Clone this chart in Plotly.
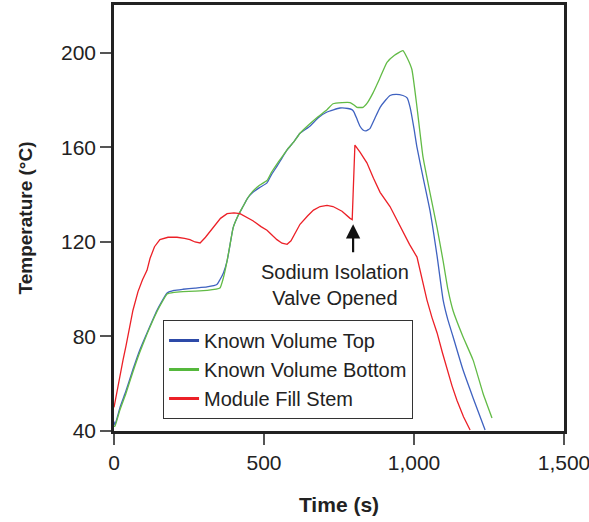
import plotly.graph_objects as go

# Module Fill Stem (red)
red_t = [0, 3, 10, 20, 30, 40, 50, 63, 80, 95, 110, 120, 135, 153, 180, 210, 235, 253, 270, 287, 305, 330, 355, 377, 400, 420, 440, 463, 490, 510, 530, 543, 560, 577, 590, 605, 620, 645, 665, 687, 710, 730, 760, 787, 794, 797, 803, 820, 843, 865, 887, 920, 940, 963, 985, 1010, 1027, 1043, 1060, 1077, 1095, 1110, 1127, 1143, 1165, 1187]
red_T = [50, 52, 58, 64, 70, 76, 83, 91, 99, 104, 108, 113, 118, 121, 122, 122, 121.5, 121, 120, 119.6, 122, 126, 130, 132, 132.3, 132, 130.5, 129, 126.5, 125, 122.5, 121, 119.5, 119, 120.5, 124, 127.5, 131, 133.5, 135, 135.5, 135, 133, 130, 129.5, 140, 161, 158, 153.5, 147, 141, 135, 130, 124, 119, 113.6, 104, 95.5, 88, 81.5, 73, 66, 59, 53, 46, 40.4]

# Known Volume Top (blue)
blue_t = [0, 3, 20, 40, 63, 85, 110, 143, 160, 177, 200, 230, 270, 310, 343, 353, 365, 377, 387, 397, 413, 430, 445, 463, 485, 510, 525, 543, 560, 577, 600, 620, 653, 680, 710, 753, 780, 793, 800, 810, 820, 830, 840, 853, 870, 887, 905, 920, 940, 963, 977, 987, 1000, 1010, 1030, 1053, 1077, 1097, 1113, 1130, 1163, 1197, 1237]
blue_T = [44, 42.5, 50, 57, 66, 74, 81.5, 91, 95, 98.4, 99.5, 100, 100.5, 101, 102, 104, 107, 112, 119, 126, 131, 135, 138.5, 141, 143, 145, 148.5, 152, 155.5, 159, 162.5, 166, 169, 172.5, 175, 176.7, 176.5, 176, 175, 172, 169, 167.4, 167, 168, 172.5, 177, 180, 182, 182.5, 182, 181, 177, 168, 160, 147.5, 133.5, 114, 95.5, 87, 80, 66, 54, 40.4]

# Known Volume Bottom (green)
green_t = [0, 3, 20, 40, 63, 85, 110, 143, 160, 177, 200, 230, 270, 310, 353, 365, 377, 387, 397, 413, 430, 445, 463, 485, 510, 525, 543, 560, 577, 600, 620, 653, 680, 710, 730, 760, 787, 800, 810, 830, 845, 863, 885, 910, 935, 963, 977, 993, 1010, 1030, 1053, 1077, 1097, 1113, 1130, 1163, 1197, 1230, 1260]
green_T = [42, 42, 49, 56, 65, 73, 81, 90.5, 94.5, 98, 98.7, 99, 99.2, 99.5, 100.5, 105, 112, 119, 126, 131, 135, 138.5, 141.5, 144, 146, 149.5, 153, 156, 159, 162.5, 166, 170, 173, 176, 178.5, 179, 179, 178, 177, 177, 179, 183, 189, 196, 199, 201, 198, 193, 177, 156, 141, 126, 112, 100, 91, 80, 70, 56, 45.5]

series_names = ["Known Volume Top", "Known Volume Bottom", "Module Fill Stem"]
line_colors = ["#3f62c0", "#62bb46", "#ec2027"]
legend_colors = ["#2d4aa8", "#55b83c", "#ec2027"]

x_ticks = [0, 500, 1000, 1500]
y_ticks = [40, 80, 120, 160, 200]

FONT = "Liberation Sans, Arial, sans-serif"

fig = go.Figure()
for (tx, ty), nm, col in zip([(blue_t, blue_T), (green_t, green_T), (red_t, red_T)],
                             series_names, line_colors):
    shape = dict(shape="spline", smoothing=0.4) if nm != "Module Fill Stem" else {}
    fig.add_trace(go.Scatter(x=tx, y=ty, mode="lines", name=nm, showlegend=False,
                             line=dict(color=col, width=1.3, **shape)))
# legend entries with thicker sample lines
for nm, col in zip(series_names, legend_colors):
    fig.add_trace(go.Scatter(x=[None], y=[None], mode="lines", name=nm,
                             line=dict(color=col, width=3)))

# arrow
fig.add_annotation(x=797, y=127.5, ax=797, ay=115, xref="x", yref="y", axref="x", ayref="y",
                   text="", showarrow=True, arrowhead=2, arrowsize=1.3, arrowwidth=2.2,
                   arrowcolor="#111")
fig.add_annotation(x=737, y=102, xref="x", yref="y", text="Sodium Isolation<br>Valve Opened",
                   showarrow=False, font=dict(family=FONT, size=20, color="#222"), align="center")

fig.update_layout(
    width=589, height=522,
    margin=dict(l=114, r=25, t=5, b=91, autoexpand=False),
    paper_bgcolor="white", plot_bgcolor="white",
    font=dict(family=FONT, size=21, color="#222"),
    showlegend=True,
    legend=dict(x=0.109, y=0.2606, xanchor="left", yanchor="top",
                bordercolor="#333", borderwidth=1, bgcolor="white",
                font=dict(family=FONT, size=20, color="#222"),
                itemwidth=30),
)
fig.update_xaxes(range=[0, 1500], tickvals=x_ticks, tickformat=",d",
                 ticklabeloverflow="allow", automargin=False,
                 showgrid=False, zeroline=False,
                 showline=True, linecolor="#222", linewidth=2.5, mirror=True,
                 ticks="outside", ticklen=11, tickcolor="#555", tickwidth=1.5,
                 title=dict(text="<b>Time (s)</b>", font=dict(family=FONT, size=21), standoff=25))
fig.update_yaxes(range=[40, 220.3], tickvals=y_ticks, automargin=False,
                 showgrid=False, zeroline=False,
                 showline=True, linecolor="#222", linewidth=2.5, mirror=True,
                 ticks="outside", ticklen=11, tickcolor="#555", tickwidth=1.5,
                 title=dict(text="<b>Temperature (°C)</b>", font=dict(family=FONT, size=19), standoff=24))

fig.write_html("out.html")
